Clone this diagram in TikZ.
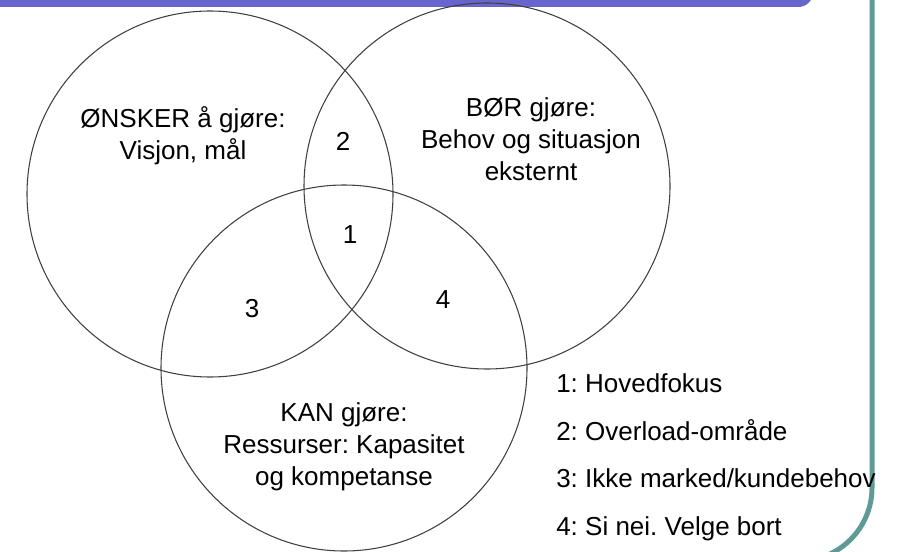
\documentclass[tikz,border=0pt]{standalone}
\usepackage{fontspec}
\setmainfont{Liberation Sans}
\usetikzlibrary{positioning}
\definecolor{barblue}{RGB}{102,102,204}
\definecolor{frameteal}{RGB}{95,155,150}
\frenchspacing

\begin{document}
\begin{tikzpicture}[x=0.75pt,y=-0.75pt,
  venn/.style={draw=black!75,line width=0.8pt},
  lbl/.style={font=\fontsize{19.5}{24}\selectfont,align=center,inner sep=0pt},
  num/.style={font=\fontsize{19.5}{24}\selectfont,inner sep=0pt,anchor=base},
  key/.style={font=\fontsize{19.5}{24}\selectfont,inner sep=0pt,anchor=base west}]
\useasboundingbox (0,0) rectangle (905,552);
% slide decoration
\fill[barblue,rounded corners=11pt] (-30,-40) rectangle (813,7);
\draw[frameteal,line width=3.75pt,rounded corners=55pt]
  (872,-10) -- (872,561) -- (600,561);
% the three circles
\draw[venn] (210,194) circle (183);
\draw[venn] (487,186) circle (183);
\draw[venn] (344,368) circle (183);
% circle texts
\node[lbl] (onsker) at (183,136) {ØNSKER å gjøre:\\Visjon, mål};
\node[lbl] (bor) at (531,139) {BØR gjøre:\\Behov og situasjon\\eksternt};
\node[lbl] (kan) at (344,447) {KAN gjøre:\\Ressurser: Kapasitet\\og kompetanse};
% overlap numbers
\node[num] (n2) at (343,151) {2};
\node[num] (n1) at (350,243) {1};
\node[num] (n3) at (252,317) {3};
\node[num] (n4) at (443,308) {4};
% legend
\node[key] (k1) at (556,392) {1: Hovedfokus};
\node[key] (k2) at (556,440) {2: Overload-område};
\node[key] (k3) at (556,487) {3: Ikke marked/kundebehov};
\node[key] (k4) at (556,535) {4: Si nei. Velge bort};
\end{tikzpicture}
\end{document}
